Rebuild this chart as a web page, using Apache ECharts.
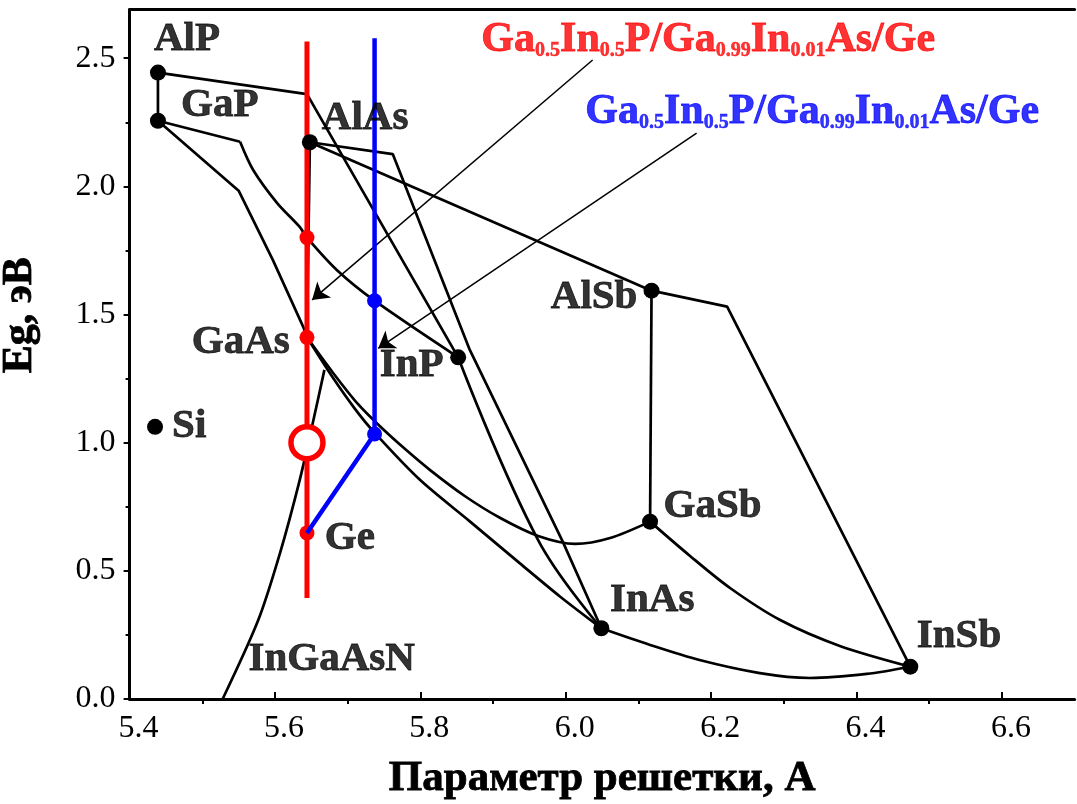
<!DOCTYPE html>
<html><head><meta charset="utf-8">
<script src="https://cdn.jsdelivr.net/npm/echarts@6/dist/echarts.min.js"></script>
<style>html,body{margin:0;padding:0;background:#fff}#c{width:1077px;height:804px}</style>
</head><body><div id="c"></div>
<script>
// ---- tick values ----
const xTicks = [5.4, 5.6, 5.8, 6.0, 6.2, 6.4, 6.6];
const xMinorTicks = [5.5, 5.7, 5.9, 6.1, 6.3, 6.5];
const yTicks = [0, 0.5, 1.0, 1.5, 2.0, 2.5];
const yMinorTicks = [0.25, 0.75, 1.25, 1.75, 2.25];

// ---- binary compounds (lattice constant, Eg) ----
const compoundNames = ['AlP', 'GaP', 'AlAs', 'GaAs', 'Ge', 'Si', 'InP', 'AlSb', 'GaSb', 'InAs', 'InSb'];
const compoundPts = [[5.439, 2.444], [5.439, 2.256], [5.648, 2.172], [5.644, 1.411], [5.644, 0.648],
  [5.435, 1.062], [5.852, 1.333], [6.118, 1.593], [6.116, 0.692], [6.049, 0.276], [6.474, 0.126]];

// ---- ternary curves (polylines) ----
const curveAlPGaP = [[5.439, 2.444], [5.439, 2.256]];
const curveAlPInP = [[5.439, 2.444], [5.644, 2.360], [5.852, 1.333]];
const curveGaPGaAs = [[5.439, 2.256], [5.550, 1.983], [5.597, 1.713], [5.639, 1.451], [5.644, 1.411]];
const curveGaPKink = [[5.439, 2.256], [5.552, 2.174]];
const curveGaInP = [[5.552, 2.174], [5.570, 2.064], [5.603, 1.935], [5.634, 1.842], [5.644, 1.800], [5.685, 1.674], [5.737, 1.554], [5.852, 1.333]];
const curveAlAsGaAs = [[5.648, 2.172], [5.644, 1.411]];
const curveAlAsInAs = [[5.648, 2.172], [5.762, 2.126], [5.868, 1.362], [5.996, 0.613], [6.049, 0.276]];
const curveInPInAs = [[5.852, 1.333], [5.962, 0.620], [6.049, 0.276]];
const curveAlAsAlSb = [[5.648, 2.172], [6.118, 1.593]];
const curveAlSbInSb = [[6.118, 1.593], [6.222, 1.531], [6.474, 0.126]];
const curveAlSbGaSb = [[6.118, 1.593], [6.116, 0.692]];
const curveGaAsInAs = [[5.644, 1.411], [5.680, 1.252], [5.710, 1.132], [5.736, 1.042], [5.799, 0.856], [5.868, 0.693], [5.937, 0.529], [5.992, 0.400], [6.049, 0.276]];
const curveGaAsGaSb = [[5.644, 1.411], [5.680, 1.272], [5.714, 1.151], [5.744, 1.065], [5.779, 0.975], [5.813, 0.894], [5.861, 0.792], [5.910, 0.706], [5.962, 0.636], [6.013, 0.605], [6.061, 0.628], [6.116, 0.692]];
const curveGaSbInSb = [[6.116, 0.692], [6.171, 0.558], [6.226, 0.433], [6.295, 0.308], [6.377, 0.207], [6.474, 0.126]];
const curveInAsInSb = [[6.049, 0.276], [6.116, 0.211], [6.184, 0.152], [6.267, 0.101], [6.336, 0.082], [6.414, 0.098], [6.474, 0.126]];
const curveInGaAsN = [[5.528, 0.0], [5.577, 0.308], [5.607, 0.570], [5.634, 0.854], [5.652, 1.077], [5.668, 1.284]];

// ---- cell structures ----
const redLine = [[5.644, 0.394], [5.644, 2.565]];
const redPts = [[5.644, 1.800], [5.644, 1.411], [5.644, 0.648]];
const redOpenPt = [[5.644, 1.000]];
const blueLine = [[5.737, 2.578], [5.737, 1.034], [5.644, 0.648]];
const bluePts = [[5.737, 1.554], [5.737, 1.034]];

// ---- arrows ----
const redArrow = [[6.037, 2.493], [5.651, 1.557]];
const blueArrow = [[6.180, 2.208], [5.742, 1.368]];

// ---- text labels ----
const labelNames = ['AlP', 'GaP', 'AlAs', 'GaAs', 'InP', 'Si', 'Ge', 'AlSb', 'GaSb', 'InAs', 'InSb', 'InGaAsN'];
const labelPos = [[5.479, 2.575], [5.524, 2.314], [5.724, 2.267], [5.553, 1.393], [5.788, 1.301], [5.482, 1.065],
  [5.703, 0.628], [6.039, 1.565], [6.202, 0.753], [6.119, 0.386], [6.541, 0.246], [5.678, 0.156]];
const formulaRedPos = [6.196, 2.579];
const formulaBluePos = [6.339, 2.298];

const FONT = 'Liberation Serif';
const chart = echarts.init(document.getElementById('c'), null, {renderer: 'canvas'});

function black(data, smooth) {
  return {type: 'line', data: data, symbol: 'none', smooth: smooth || false, silent: true,
    lineStyle: {color: '#000', width: 2.7}, z: 2};
}
function formulaRich(col) {
  return {
    m: {fontFamily: FONT, fontWeight: 'bold', fontSize: 42, verticalAlign: 'bottom', lineHeight: 46, color: col, textBorderColor: col, textBorderWidth: 0.8},
    s: {fontFamily: FONT, fontWeight: 'bold', fontSize: 20, verticalAlign: 'bottom', lineHeight: 31, color: col, textBorderColor: col, textBorderWidth: 0.5}
  };
}
const formulaStr = '{m|Ga}{s|0.5}{m|In}{s|0.5}{m|P/Ga}{s|0.99}{m|In}{s|0.01}{m|As/Ge}';

const option = {
  animation: false,
  backgroundColor: '#fff',
  grid: {left: 129.6, right: 2.4, top: 9.5, bottom: 105, containLabel: false, outerBoundsMode: 'none'},
  xAxis: [{
    type: 'value', min: 5.4, max: 6.7, position: 'bottom',
    name: 'Параметр решетки, А', nameLocation: 'middle', nameGap: 58,
    nameTextStyle: {fontFamily: FONT, fontWeight: 'bold', fontSize: 43, color: '#000', textBorderColor: '#000', textBorderWidth: 0.8},
    axisLine: {show: true, lineStyle: {color: '#000', width: 3}},
    axisTick: {show: true, inside: true, length: 7, customValues: xTicks, lineStyle: {color: '#000', width: 2}},
    axisLabel: {customValues: xTicks, formatter: v => v.toFixed(1), fontFamily: FONT, fontSize: 32, color: '#000', margin: 14, padding: [0, 0, 0, 18]},
    splitLine: {show: false}
  }, {
    type: 'value', min: 5.4, max: 6.7, position: 'bottom',
    axisLine: {show: false},
    axisTick: {show: true, inside: false, length: 5, customValues: xMinorTicks, lineStyle: {color: '#000', width: 2}},
    axisLabel: {show: false}, splitLine: {show: false}
  }, {
    type: 'value', min: 5.4, max: 6.7, position: 'top',
    axisLine: {show: true, lineStyle: {color: '#000', width: 3}},
    axisTick: {show: false}, axisLabel: {show: false}, splitLine: {show: false}
  }],
  yAxis: [{
    type: 'value', min: 0, max: 2.69, position: 'left',
    name: 'Eg, эВ', nameLocation: 'middle', nameGap: 88, nameRotate: 90,
    nameTextStyle: {fontFamily: FONT, fontWeight: 'bold', fontSize: 42, color: '#000', padding: [0, 0, 0, 78], textBorderColor: '#000', textBorderWidth: 0.8},
    axisLine: {show: true, lineStyle: {color: '#000', width: 3}},
    axisTick: {show: true, inside: false, length: 6, customValues: yTicks, lineStyle: {color: '#000', width: 2}},
    axisLabel: {customValues: yTicks, formatter: v => v.toFixed(1), fontFamily: FONT, fontSize: 32, color: '#000', margin: 14},
    splitLine: {show: false}
  }, {
    type: 'value', min: 0, max: 2.69, position: 'left',
    axisLine: {show: false},
    axisTick: {show: true, inside: false, length: 4, customValues: yMinorTicks, lineStyle: {color: '#000', width: 2}},
    axisLabel: {show: false}, splitLine: {show: false}
  }],
  series: [
    black(curveAlPGaP), black(curveAlPInP), black(curveGaPGaAs), black(curveGaPKink),
    black(curveGaInP, 0.3), black(curveAlAsGaAs), black(curveAlAsInAs), black(curveInPInAs, 0.4),
    black(curveAlAsAlSb), black(curveAlSbInSb), black(curveAlSbGaSb),
    black(curveGaAsInAs, 0.3), black(curveGaAsGaSb, 0.3), black(curveGaSbInSb, 0.3),
    black(curveInAsInSb, 0.3), black(curveInGaAsN, 0.3),
    {type: 'lines', coordinateSystem: 'cartesian2d', silent: true, z: 3,
      symbol: ['none', 'arrow'], symbolSize: 16,
      lineStyle: {color: '#000', width: 1.5, opacity: 1},
      data: [{coords: redArrow}, {coords: blueArrow}]},
    {type: 'line', data: redLine, symbol: 'none', silent: true, z: 4, lineStyle: {color: '#ff0000', width: 5}},
    {type: 'scatter', data: redPts, symbol: 'circle', symbolSize: 15, silent: true, z: 5, itemStyle: {color: '#ff0000', opacity: 1}},
    {type: 'scatter', data: redOpenPt, symbol: 'circle', symbolSize: 32, silent: true, z: 5,
      itemStyle: {color: '#fff', borderColor: '#ff0000', borderWidth: 5.5, opacity: 1}},
    {type: 'line', data: blueLine, symbol: 'none', silent: true, z: 6, lineStyle: {color: '#0000ff', width: 4.5}},
    {type: 'scatter', data: bluePts, symbol: 'circle', symbolSize: 15, silent: true, z: 7, itemStyle: {color: '#0000ff', opacity: 1}},
    {type: 'scatter', data: compoundPts.filter((p, i) => compoundNames[i] !== 'GaAs' && compoundNames[i] !== 'Ge'),
      symbol: 'circle', symbolSize: 16, silent: true, z: 8, itemStyle: {color: '#000', opacity: 1}},
    {type: 'scatter', silent: true, z: 9, symbol: 'circle', symbolSize: 1, itemStyle: {color: 'rgba(0,0,0,0)'},
      data: labelNames.map((n, i) => ({name: n, value: labelPos[i]})),
      label: {show: true, position: 'inside', formatter: p => p.name, fontFamily: FONT, fontWeight: 'bold', fontSize: 41,
        color: '#000', textBorderColor: '#000', textBorderWidth: 0.8}},
    {type: 'scatter', silent: true, z: 9, symbol: 'circle', symbolSize: 1, itemStyle: {color: 'rgba(0,0,0,0)'},
      data: [{name: 'red', value: formulaRedPos}],
      label: {show: true, position: 'inside', formatter: formulaStr, color: '#ff0000', rich: formulaRich('#ff0000')}},
    {type: 'scatter', silent: true, z: 9, symbol: 'circle', symbolSize: 1, itemStyle: {color: 'rgba(0,0,0,0)'},
      data: [{name: 'blue', value: formulaBluePos}],
      label: {show: true, position: 'inside', formatter: formulaStr, color: '#0000ff', rich: formulaRich('#0000ff')}}
  ]
};
chart.setOption(option);
</script></body></html>
